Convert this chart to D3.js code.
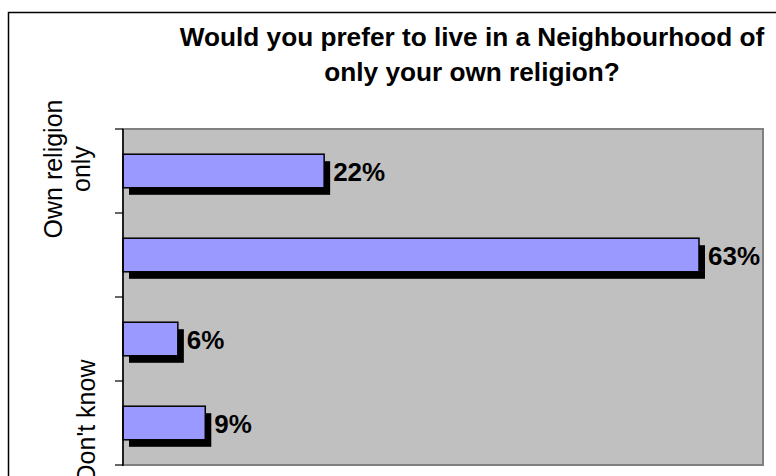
<!DOCTYPE html>
<html>
<head>
<meta charset="utf-8">
<script src="https://cdn.jsdelivr.net/npm/d3@7"></script>
<style>
  html, body { margin: 0; padding: 0; background: #fff; }
  svg { display: block; font-family: "Liberation Sans", Arial, sans-serif; }
</style>
</head>
<body>
<svg id="chart" width="776" height="476"></svg>
<script>
// Survey answers, top to bottom. Only every third category name is printed on the axis.
const categories = ["Own religion\nonly", "", "", "Don't know"];
const values = [0.22, 0.63, 0.06, 0.09];
const valueLabels = ["22%", "63%", "6%", "9%"];
const titleLines = ["Would you prefer to live in a Neighbourhood of", "only your own religion?"];

const W = 776, H = 476;
const plot = { left: 123, top: 129, right: 763, bottom: 465 };

const svg = d3.select("#chart");

// Outer chart frame (open on the right and bottom)
svg.append("path")
  .attr("d", `M8.5,${H} L8.5,12.5 L${W},12.5`)
  .attr("fill", "none")
  .attr("stroke", "#000")
  .attr("stroke-width", 1.5);

// Title
svg.append("g").selectAll("text")
  .data(titleLines)
  .join("text")
  .attr("x", 472)
  .attr("y", (d, i) => 46 + i * 35)
  .attr("text-anchor", "middle")
  .attr("font-size", "26.2px")
  .attr("font-weight", "bold")
  .attr("fill", "#000")
  .text(d => d);

const idx = d3.range(categories.length);

const x = d3.scaleLinear().domain([0, 0.7]).range([plot.left, plot.right]);
const yBand = d3.scaleBand().domain(idx).range([plot.top, plot.bottom]).padding(0);
const yBar = d3.scaleBand().domain(idx).range([plot.top, plot.bottom])
  .paddingInner(0.6).paddingOuter(0.3);

// Plot area background with grey frame
svg.append("rect")
  .attr("x", plot.left)
  .attr("y", plot.top)
  .attr("width", plot.right - plot.left)
  .attr("height", plot.bottom - plot.top)
  .attr("fill", "#C0C0C0")
  .attr("stroke", "#808080")
  .attr("stroke-width", 2);

// Bars: drop shadow first, then the bar itself
const bars = svg.append("g");
bars.selectAll("rect.shadow")
  .data(idx)
  .join("rect")
  .attr("class", "shadow")
  .attr("x", x(0) + 6)
  .attr("y", i => yBar(i) + 7)
  .attr("width", i => x(values[i]) - x(0))
  .attr("height", yBar.bandwidth())
  .attr("fill", "#000");

bars.selectAll("rect.bar")
  .data(idx)
  .join("rect")
  .attr("class", "bar")
  .attr("x", x(0))
  .attr("y", i => yBar(i))
  .attr("width", i => x(values[i]) - x(0))
  .attr("height", yBar.bandwidth())
  .attr("fill", "#9999FF")
  .attr("stroke", "#000")
  .attr("stroke-width", 1.5);

// Value labels
svg.append("g").selectAll("text")
  .data(idx)
  .join("text")
  .attr("x", i => x(values[i]) + 9)
  .attr("y", i => yBar(i) + yBar.bandwidth() / 2 + 1)
  .attr("dominant-baseline", "central")
  .attr("font-size", "26px")
  .attr("font-weight", "bold")
  .attr("fill", "#000")
  .text(i => valueLabels[i]);

// Category axis: line and ticks at band boundaries
const axis = svg.append("g");
axis.append("line")
  .attr("x1", plot.left).attr("x2", plot.left)
  .attr("y1", plot.top).attr("y2", plot.bottom + 1)
  .attr("stroke", "#000").attr("stroke-width", 1.5);
const tickYs = idx.map(i => yBand(i)).concat([plot.bottom]);
axis.selectAll("line.tick")
  .data(tickYs)
  .join("line")
  .attr("class", "tick")
  .attr("x1", plot.left - 8).attr("x2", plot.left)
  .attr("y1", d => d).attr("y2", d => d)
  .attr("stroke", "#000").attr("stroke-width", 1.2);

// Rotated category names
idx.forEach(i => {
  const lines = categories[i] ? categories[i].split("\n") : [];
  if (!lines.length) return;
  const cy = yBand(i) + yBand.bandwidth() / 2 - 2;
  const lastBaseline = lines.length > 1 ? 90 : 95;
  lines.forEach((ln, j) => {
    const bx = lastBaseline - (lines.length - 1 - j) * 28;
    axis.append("text")
      .attr("transform", `translate(${bx},${cy}) rotate(-90)`)
      .attr("text-anchor", "middle")
      .attr("font-size", "25px")
      .attr("fill", "#000")
      .text(ln);
  });
});
</script>
</body>
</html>
